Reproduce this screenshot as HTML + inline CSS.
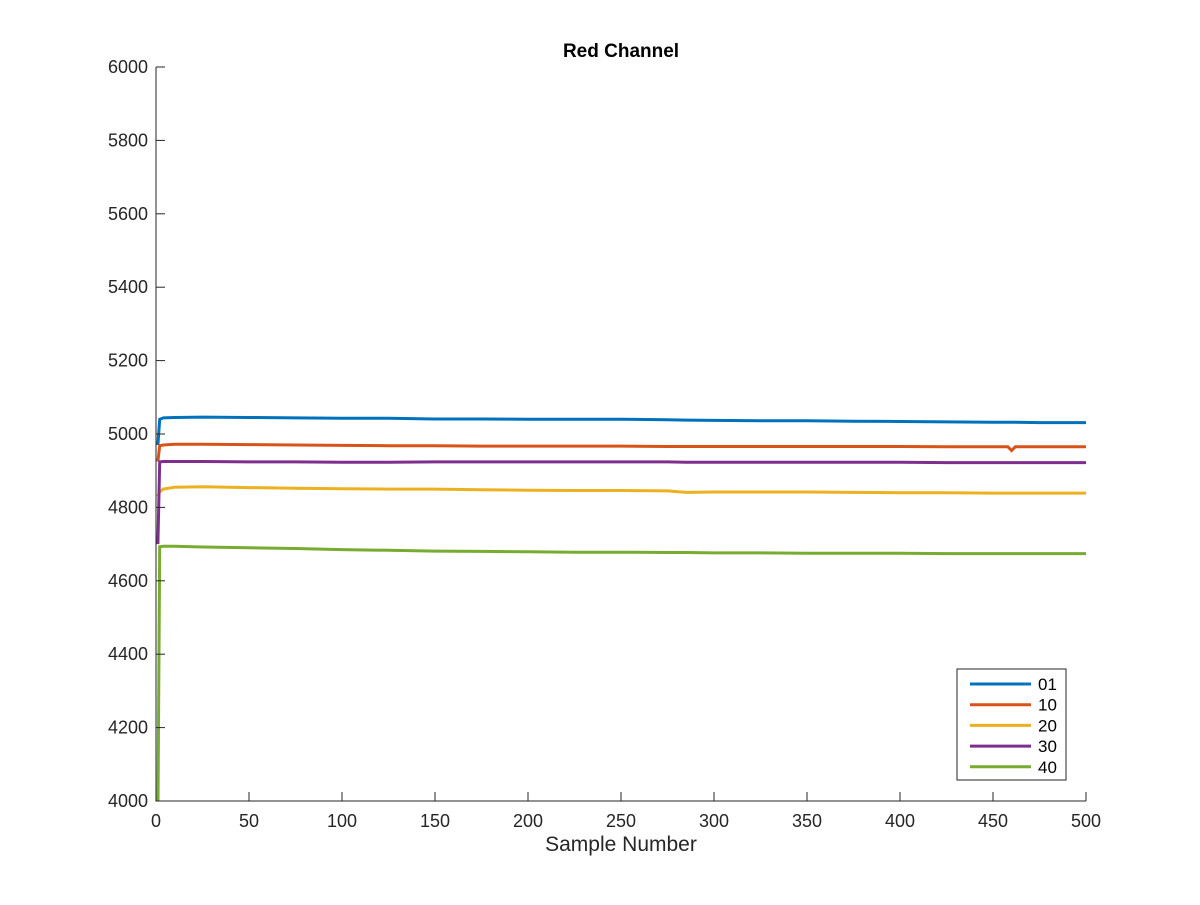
<!DOCTYPE html>
<html><head><meta charset="utf-8"><style>
body{margin:0;background:#fff;font-family:"Liberation Sans",Arial,sans-serif}
svg text{font-family:"Liberation Sans",Arial,sans-serif}
</style></head><body>
<svg id="c" width="1200" height="900" xmlns="http://www.w3.org/2000/svg"></svg>
<script>
const xTicks=[0,50,100,150,200,250,300,350,400,450,500];
const yTicks=[4000,4200,4400,4600,4800,5000,5200,5400,5600,5800,6000];
const seriesNames=["01","10","20","30","40"];
const seriesColors=["#0072bd","#d95319","#edb120","#7e2f8e","#77ac30"];
const sampleX=[1,2,4,10,25,50,75,100,125,150,175,200,225,250,275,285,300,325,350,375,400,425,450,458,460,462,475,500];
const s01=[4970,5040,5044,5045,5046,5045,5044,5043,5043,5041,5041,5040,5040,5040,5039,5038,5037,5036,5036,5035,5034,5033,5032,5032,5032,5032,5031,5031];
const s10=[4925,4968,4970,4972,4972,4971,4970,4969,4968,4968,4967,4967,4967,4967,4966,4966,4966,4966,4966,4966,4966,4965,4965,4965,4955,4965,4965,4965];
const s20=[4830,4843,4850,4855,4856,4854,4852,4851,4850,4850,4848,4847,4846,4846,4845,4841,4842,4842,4842,4841,4840,4840,4839,4839,4839,4839,4839,4839];
const s30=[4700,4924,4925,4925,4925,4924,4924,4923,4923,4924,4924,4924,4924,4924,4924,4923,4923,4923,4923,4923,4923,4922,4922,4922,4922,4922,4922,4922];
const s40=[3950,4693,4694,4694,4692,4690,4688,4685,4683,4681,4680,4679,4678,4678,4677,4677,4676,4676,4675,4675,4675,4674,4674,4674,4674,4674,4674,4674];
const allSeries=[s01,s10,s20,s30,s40];
const svg=document.getElementById('c');const NS="http://www.w3.org/2000/svg";
const X0=156,X1=1086,Y0=801,Y1=67;
const xs=v=>X0+(v-0)/500*(X1-X0);
const ys=v=>Y0-(v-4000)/2000*(Y0-Y1);
function mk(t,a,p){const e=document.createElementNS(NS,t);for(const k in a)e.setAttribute(k,a[k]);(p||svg).appendChild(e);return e;}
const clip=mk('clipPath',{id:'pc'});mk('rect',{x:X0,y:Y1,width:X1-X0,height:Y0-Y1},clip);
// series
allSeries.forEach((s,i)=>{
 const pts=s.map((v,j)=>xs(sampleX[j]).toFixed(1)+','+ys(v).toFixed(1)).join(' ');
 const l=mk('polyline',{points:pts,fill:'none',stroke:seriesColors[i],'stroke-width':3,'clip-path':'url(#pc)'});
 
 
});
// axes
const ax=mk('path',{d:`M${X0},${Y1}V${Y0}H${X1}`,stroke:'#262626',fill:'none','stroke-width':1});


xTicks.forEach(t=>{
 const x=xs(t);mk('line',{x1:x,x2:x,y1:Y0,y2:Y0-9,stroke:'#262626'});
 const tx=mk('text',{x:x,y:Y0+26,'text-anchor':'middle','font-size':18,fill:'#262626'});tx.textContent=t;
 
 
});
yTicks.forEach(t=>{
 const y=ys(t);mk('line',{x1:X0,x2:X0+9,y1:y,y2:y,stroke:'#262626'});
 const tx=mk('text',{x:X0-8,y:y+6,'text-anchor':'end','font-size':18,fill:'#262626'});tx.textContent=t;
 
 
});
const ttl=mk('text',{x:621,y:57,'text-anchor':'middle','font-size':19,'font-weight':'bold',fill:'#000'});ttl.textContent='Red Channel';


const xl=mk('text',{x:621,y:851,'text-anchor':'middle','font-size':21,fill:'#262626'});xl.textContent='Sample Number';


// legend
const lg=mk('g',{});


mk('rect',{x:957,y:669,width:109,height:111,fill:'#fff',stroke:'#262626'},lg);
seriesNames.forEach((n,i)=>{
 const y=684+i*20.7;
 const e=mk('g',{},lg);
 
 
 mk('line',{x1:970,x2:1031,y1:y,y2:y,stroke:seriesColors[i],'stroke-width':3},e);
 const t=mk('text',{x:1038,y:y+6,'font-size':17,fill:'#000'},e);t.textContent=n;
});
</script>
</body></html>
